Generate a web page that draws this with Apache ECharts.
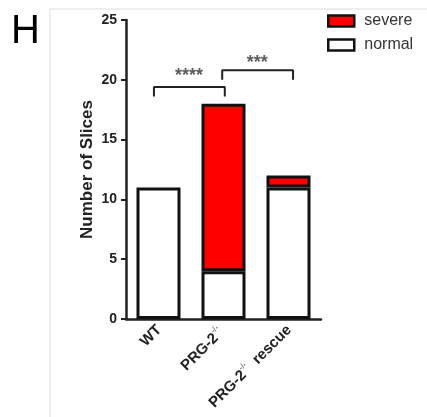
<!DOCTYPE html>
<html><head><meta charset="utf-8">
<script src="https://cdn.jsdelivr.net/npm/echarts@6/dist/echarts.min.js"></script>
<style>html,body{margin:0;padding:0;background:#fff}#c{width:427px;height:417px}</style>
</head><body><div id="c"></div>
<script>
const categories = ['WT', 'PRG-2-/-', 'PRG-2-/- rescue'];
const normalValues = [11, 4, 11];
const severeValues = [0, 14, 1];
const yTicks = [0, 5, 10, 15, 20, 25];
const bracket1 = [[-0.07, 18.6], [-0.07, 19.4], [1.02, 19.4], [1.02, 18.6]];
const bracket2 = [[0.98, 20.0], [0.98, 20.8], [2.07, 20.8], [2.07, 20.0]];
const sigLabels = [{pos: [0.47, 20.3], text: '****'}, {pos: [1.52, 21.4], text: '***'}];

const chart = echarts.init(document.getElementById('c'));
const font = 'Liberation Sans, Arial, sans-serif';
const bracketStyle = {color: '#222', width: 2};
chart.setOption({
  animation: false,
  graphic: [
    {type: 'line', shape: {x1: 50, y1: 9, x2: 427, y2: 9}, style: {stroke: '#ddd', lineWidth: 1}},
    {type: 'line', shape: {x1: 50, y1: 9, x2: 50, y2: 417}, style: {stroke: '#ddd', lineWidth: 1}},
    {type: 'text', left: 11, top: 12, style: {text: 'H', font: '40px ' + font, fill: '#000'}}
  ],
  legend: {
    orient: 'vertical', left: 322, top: 8, itemWidth: 26, itemHeight: 11, itemGap: 8,
    icon: 'rect',
    itemStyle: {borderColor: '#111', borderWidth: 2.5},
    textStyle: {fontFamily: font, fontSize: 16, color: '#333', padding: [0, 0, 0, 5]},
    data: ['severe', 'normal']
  },
  grid: {left: 126, right: 106, top: 20, bottom: 98},
  xAxis: [{
    type: 'category', data: categories,
    axisLine: {lineStyle: {color: '#222', width: 2.5}},
    axisTick: {lineStyle: {color: '#222', width: 2}, length: 5, alignWithLabel: true},
    axisLabel: {
      rotate: 45, interval: 0, margin: 8,
      fontFamily: font, fontWeight: 'bold', fontSize: 15, color: '#222',
      formatter: function (v) {
        if (v.indexOf('PRG-2-/-') === 0) {
          return '{b|PRG-2}{s|-/-}{b|' + v.slice(8) + '}';
        }
        return '{b|' + v + '}';
      },
      rich: {
        b: {fontFamily: font, fontWeight: 'bold', fontSize: 15, color: '#222', lineHeight: 17, verticalAlign: 'bottom'},
        s: {fontFamily: font, fontSize: 8, color: '#777', lineHeight: 17, verticalAlign: 'top', padding: [0, 4, 0, 0]}
      }
    }
  }, {
    type: 'value', min: -0.5, max: 2.5, show: false
  }],
  yAxis: {
    type: 'value', min: 0, max: 25, interval: 5,
    name: 'Number of Slices', nameLocation: 'middle', nameGap: 30,
    nameTextStyle: {fontFamily: font, fontWeight: 'bold', fontSize: 17, color: '#222'},
    axisLine: {show: true, onZero: false, lineStyle: {color: '#222', width: 2.5}},
    axisTick: {show: true, lineStyle: {color: '#222', width: 2}, length: 5},
    splitLine: {show: false},
    axisLabel: {fontFamily: font, fontWeight: 'bold', fontSize: 14, color: '#222', margin: 9,
      formatter: v => yTicks.indexOf(v) >= 0 ? String(v) : ''}
  },
  series: [
    {name: 'normal', type: 'bar', stack: 's', data: normalValues, barWidth: 44,
      itemStyle: {color: '#fff', borderColor: '#111', borderWidth: 3}},
    {name: 'severe', type: 'bar', stack: 's', data: severeValues.map(v => v === 0 ? '-' : v), barWidth: 44,
      itemStyle: {color: '#ff0000', borderColor: '#111', borderWidth: 3}},
    {type: 'line', xAxisIndex: 1, data: bracket1, symbol: 'none', lineStyle: bracketStyle, silent: true},
    {type: 'line', xAxisIndex: 1, data: bracket2, symbol: 'none', lineStyle: bracketStyle, silent: true},
    {type: 'scatter', xAxisIndex: 1, symbolSize: 0, silent: true,
      data: sigLabels.map(d => ({value: d.pos, label: {formatter: d.text}})),
      label: {show: true, position: 'inside', fontFamily: font, fontWeight: 'bold', fontSize: 18, color: '#333'}}
  ]
});
</script></body></html>
